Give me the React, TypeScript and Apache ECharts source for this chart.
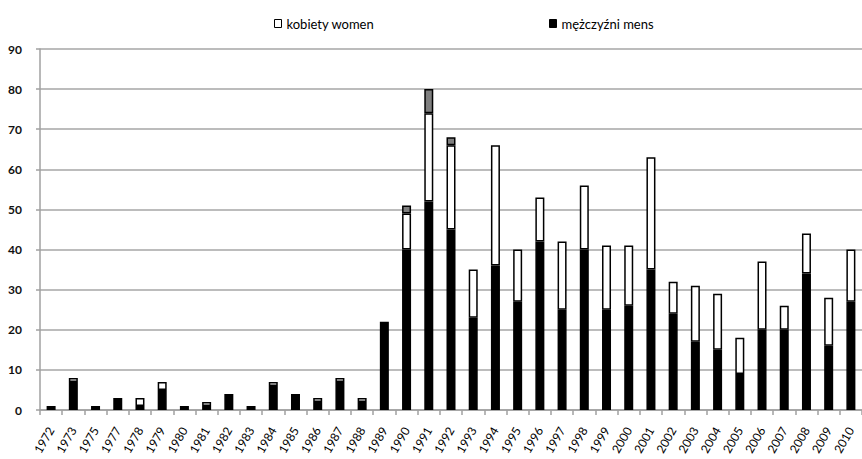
import React, { useEffect, useRef } from "react";
import * as echarts from "echarts";

const years = [
  "1972", "1973", "1975", "1977", "1978", "1979", "1980", "1981", "1982", "1983",
  "1984", "1985", "1986", "1987", "1988", "1989", "1990", "1991", "1992", "1993",
  "1994", "1995", "1996", "1997", "1998", "1999", "2000", "2001", "2002", "2003",
  "2004", "2005", "2006", "2007", "2008", "2009", "2010",
];
const men = [
  1, 7, 1, 3, 1, 5, 1, 1, 4, 1,
  6, 4, 2, 7, 2, 22, 40, 52, 45, 23,
  36, 27, 42, 25, 40, 25, 26, 35, 24, 17,
  15, 9, 20, 20, 34, 16, 27,
];
const women = [
  0, 1, 0, 0, 2, 2, 0, 1, 0, 0,
  1, 0, 1, 1, 1, 0, 9, 22, 21, 12,
  30, 13, 11, 17, 16, 16, 15, 28, 8, 14,
  14, 9, 17, 6, 10, 12, 13,
];
const unknown = [
  0, 0, 0, 0, 0, 0, 0, 0, 0, 0,
  0, 0, 0, 0, 0, 0, 2, 6, 2, 0,
  0, 0, 0, 0, 0, 0, 0, 0, 0, 0,
  0, 0, 0, 0, 0, 0, 0,
];
const yTicks = { min: 0, max: 90, interval: 10 };
const legendWomen = "kobiety women";
const legendMen = "mężczyźni mens";

const FONT = "Lato, 'Open Sans', sans-serif";

export default function App() {
  const ref = useRef<HTMLDivElement>(null);
  useEffect(() => {
    if (!ref.current) return;
    const chart = echarts.init(ref.current, undefined, { renderer: "svg" });
    const nz = (arr: number[]) => arr.map((v) => (v === 0 ? "-" : v));
    const legendBase = {
      top: 12,
      icon: "rect",
      itemWidth: 7,
      itemHeight: 8,
      textStyle: { fontFamily: FONT, fontSize: 13, color: "#000" },
    };
    chart.setOption({
      animation: false,
      backgroundColor: "#fff",
      textStyle: { fontFamily: FONT },
      legend: [
        {
          ...legendBase,
          data: [legendWomen],
          left: 269,
          itemStyle: { borderColor: "#000", borderWidth: 1 },
        },
        {
          ...legendBase,
          data: [legendMen],
          left: 544,
          itemStyle: { borderColor: "#000", borderWidth: 1 },
        },
      ],
      grid: { left: 40, right: -10, top: 49, bottom: 49, containLabel: false },
      xAxis: {
        type: "category",
        data: years,
        axisLine: { show: true, lineStyle: { color: "#a0a0a0", width: 1.5 } },
        axisTick: { show: true, length: 5, lineStyle: { color: "#a0a0a0", width: 1.5 } },
        axisLabel: {
          interval: 0,
          rotate: 60,
          margin: 18,
          fontFamily: FONT,
          fontSize: 12,
          color: "#000",
        },
      },
      yAxis: {
        type: "value",
        min: yTicks.min,
        max: yTicks.max,
        interval: yTicks.interval,
        axisLine: { show: true, lineStyle: { color: "#a0a0a0", width: 1.5 } },
        axisTick: { show: true, length: 4, lineStyle: { color: "#a0a0a0", width: 1.5 } },
        splitLine: { show: true, lineStyle: { color: "#a6a6a6", width: 1.5 } },
        axisLabel: {
          margin: 18,
          fontFamily: FONT,
          fontSize: 12,
          fontWeight: "bold",
          color: "#111",
        },
      },
      series: [
        {
          name: legendMen,
          type: "bar",
          stack: "total",
          data: nz(men),
          barWidth: 9,
          itemStyle: { color: "#000", borderColor: "#000", borderWidth: 1.5 },
        },
        {
          name: legendWomen,
          type: "bar",
          stack: "total",
          data: nz(women),
          barWidth: 9,
          itemStyle: { color: "#fff", borderColor: "#000", borderWidth: 1.5 },
        },
        {
          name: "brak danych",
          type: "bar",
          stack: "total",
          data: nz(unknown),
          barWidth: 9,
          itemStyle: { color: "#7f7f7f", borderColor: "#000", borderWidth: 1.5 },
        },
      ],
    });
    return () => chart.dispose();
  }, []);
  return (
    <div
      ref={ref}
      style={{ position: "absolute", left: 0, top: 0, width: 862, height: 459, overflow: "hidden" }}
    />
  );
}
